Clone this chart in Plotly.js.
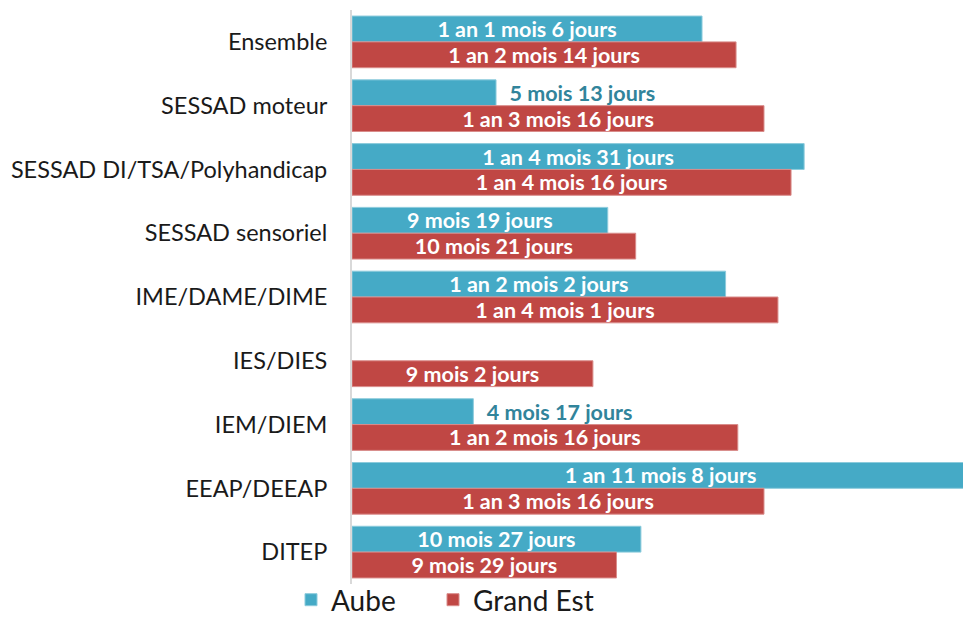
<!DOCTYPE html>
<html><head><meta charset="utf-8">
<script src="https://cdn.plot.ly/plotly-3.0.1.min.js"></script>
<style>html,body{margin:0;padding:0;background:#fff}#c{width:963px;height:617px}</style>
</head><body><div id="c"></div>
<script>
const categories = ["Ensemble","SESSAD moteur","SESSAD DI/TSA/Polyhandicap","SESSAD sensoriel","IME/DAME/DIME","IES/DIES","IEM/DIEM","EEAP/DEEAP","DITEP"];
// durations in days (1 an = 365 j, 1 mois ≈ 30.4 j)
const aubeDays = [401, 165, 518, 293, 428, null, 139, 707, 331];
const geDays   = [440, 472, 503, 325, 488, 276, 442, 472, 303];
const aubeLabels = ["1 an 1 mois 6 jours","5 mois 13 jours","1 an 4 mois 31 jours","9 mois 19 jours","1 an 2 mois 2 jours","","4 mois 17 jours","1 an 11 mois 8 jours","10 mois 27 jours"];
const geLabels = ["1 an 2 mois 14 jours","1 an 3 mois 16 jours","1 an 4 mois 16 jours","10 mois 21 jours","1 an 4 mois 1 jours","9 mois 2 jours","1 an 2 mois 16 jours","1 an 3 mois 16 jours","9 mois 29 jours"];
const aubeOutside = [false,true,false,false,false,false,true,false,false];

const FONT = "Lato, 'Open Sans', sans-serif";
const aubePos = aubeOutside.map(o => o ? 'outside' : 'inside');
const aubeTxtColor = aubeOutside.map(o => o ? '#31849B' : '#ffffff');
const aubeText = aubeLabels.map((t, i) => aubeOutside[i] ? '\u00a0\u00a0' + t : t);

const traces = [
  {type:'bar', orientation:'h', name:'Aube', y:categories, x:aubeDays, legend:'legend',
   text:aubeText, textposition:aubePos, insidetextanchor:'middle',
   textfont:{family:FONT, size:21.5, color:aubeTxtColor, weight:700},
   constraintext:'none', cliponaxis:true,
   marker:{color:'#45AAC6', line:{color:'#8ccbdc', width:1}}, hoverinfo:'none'},
  {type:'bar', orientation:'h', name:'Grand Est', y:categories, x:geDays, legend:'legend2',
   text:geLabels, textposition:'inside', insidetextanchor:'middle',
   textfont:{family:FONT, size:21.5, color:'#ffffff', weight:700},
   constraintext:'none',
   marker:{color:'#C04744', line:{color:'#d98c8a', width:1}}, hoverinfo:'none'}
];

const legFont = {family:FONT, size:28, color:'#1a1a1a'};
const legY = (617 - 600) / 617;
const layout = {
  width:963, height:617,
  margin:{l:352, r:0, t:10, b:33, autoexpand:false},
  paper_bgcolor:'#fff', plot_bgcolor:'#fff',
  barmode:'group', bargap:0.19, bargroupgap:0,
  font:{family:FONT, color:'#1a1a1a'},
  xaxis:{range:[0,700], showgrid:false, zeroline:false, showticklabels:false, showline:false, fixedrange:true},
  yaxis:{autorange:'reversed', type:'category', showgrid:false, showline:true, linecolor:'#d9d9d9', linewidth:2,
         ticks:'', ticklabelstandoff:18, tickfont:{family:FONT, size:23.5, color:'#1a1a1a'}},
  showlegend:true,
  legend:{orientation:'h', xref:'container', yref:'container', x:291/963, xanchor:'left', y:legY, yanchor:'middle', font:legFont, bgcolor:'rgba(0,0,0,0)'},
  legend2:{orientation:'h', xref:'container', yref:'container', x:433/963, xanchor:'left', y:legY, yanchor:'middle', font:legFont, bgcolor:'rgba(0,0,0,0)'},
  uniformtext:{mode:false}
};
Plotly.newPlot('c', traces, layout, {staticPlot:true});
</script></body></html>
